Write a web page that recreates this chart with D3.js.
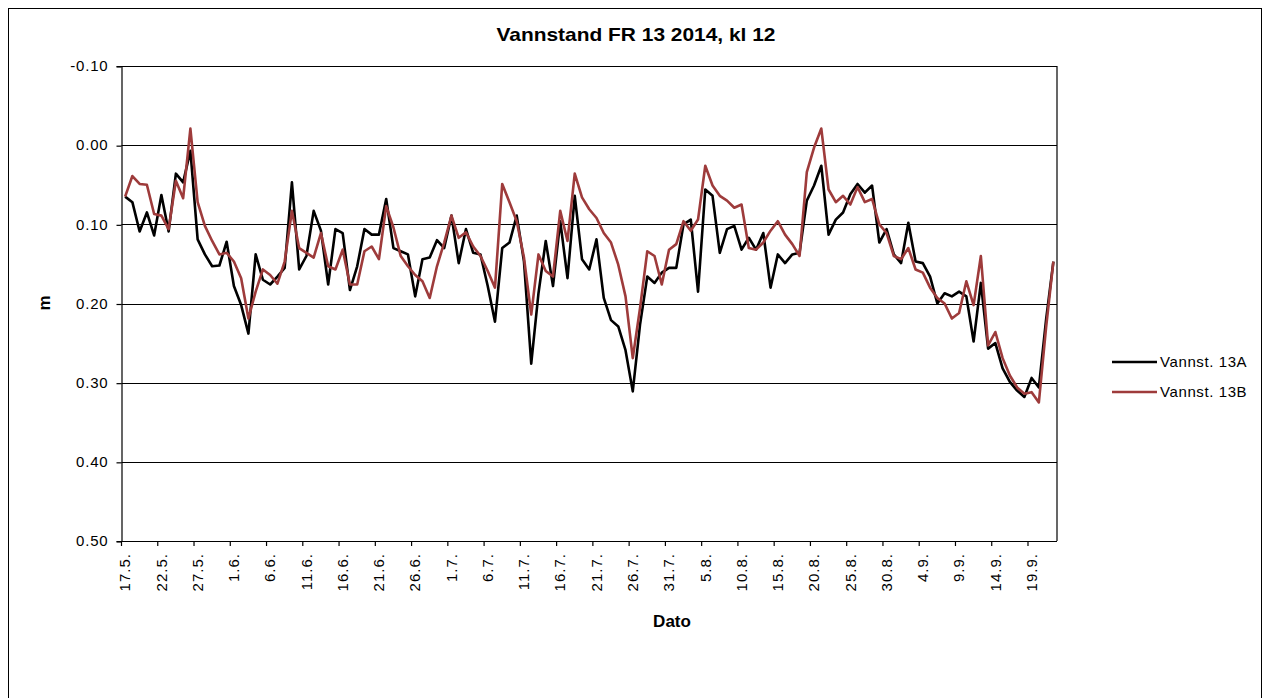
<!DOCTYPE html>
<html>
<head>
<meta charset="utf-8">
<script src="https://cdn.jsdelivr.net/npm/d3@7"></script>
<style>
  body { margin: 0; background: #fff; }
  text { font-family: "Liberation Sans", Arial, sans-serif; }
</style>
</head>
<body>
<div id="chart"></div>
<script>
// daily readings kl 12, 17.5. - 22.9. 2014
var startDay = new Date(2014, 4, 17);

var vannst13A = [
  0.065, 0.072, 0.109, 0.085, 0.114, 0.063, 0.109, 0.036, 0.047, 0.007,
  0.119, 0.138, 0.153, 0.152, 0.122, 0.178, 0.202, 0.238, 0.138, 0.170,
  0.176, 0.166, 0.155, 0.047, 0.157, 0.140, 0.083, 0.108, 0.176, 0.106,
  0.111, 0.183, 0.153, 0.106, 0.113, 0.113, 0.068, 0.130, 0.134, 0.138,
  0.191, 0.144, 0.142, 0.120, 0.130, 0.089, 0.149, 0.106, 0.136, 0.138,
  0.178, 0.223, 0.130, 0.123, 0.089, 0.147, 0.276, 0.187, 0.121, 0.178,
  0.096, 0.168, 0.064, 0.144, 0.157, 0.119, 0.193, 0.221, 0.229, 0.259,
  0.311, 0.227, 0.166, 0.174, 0.161, 0.155, 0.155, 0.100, 0.094, 0.185,
  0.056, 0.064, 0.136, 0.106, 0.102, 0.132, 0.117, 0.132, 0.111, 0.180,
  0.138, 0.149, 0.138, 0.136, 0.070, 0.051, 0.026, 0.113, 0.094, 0.085,
  0.062, 0.049, 0.060, 0.051, 0.123, 0.106, 0.138, 0.149, 0.098, 0.147,
  0.149, 0.166, 0.200, 0.187, 0.191, 0.185, 0.191, 0.248, 0.174, 0.257,
  0.250, 0.282, 0.299, 0.310, 0.318, 0.294, 0.306, 0.220, 0.147
];

var vannst13B = [
  0.065, 0.039, 0.049, 0.050, 0.087, 0.089, 0.106, 0.045, 0.067, -0.021,
  0.072, 0.102, 0.121, 0.138, 0.136, 0.147, 0.168, 0.219, 0.185, 0.157,
  0.164, 0.175, 0.147, 0.083, 0.130, 0.136, 0.142, 0.111, 0.153, 0.157,
  0.132, 0.176, 0.176, 0.134, 0.128, 0.144, 0.077, 0.104, 0.140, 0.153,
  0.164, 0.172, 0.193, 0.153, 0.123, 0.089, 0.117, 0.110, 0.128, 0.140,
  0.159, 0.180, 0.049, 0.072, 0.096, 0.142, 0.214, 0.138, 0.159, 0.166,
  0.083, 0.121, 0.036, 0.066, 0.081, 0.092, 0.111, 0.123, 0.151, 0.191,
  0.269, 0.206, 0.134, 0.140, 0.176, 0.132, 0.125, 0.096, 0.108, 0.094,
  0.026, 0.051, 0.064, 0.070, 0.079, 0.075, 0.130, 0.132, 0.123, 0.108,
  0.096, 0.113, 0.125, 0.140, 0.034, 0.003, -0.021, 0.056, 0.072, 0.064,
  0.075, 0.053, 0.072, 0.068, 0.100, 0.111, 0.140, 0.144, 0.130, 0.157,
  0.161, 0.180, 0.193, 0.200, 0.219, 0.212, 0.172, 0.202, 0.140, 0.253,
  0.236, 0.269, 0.291, 0.306, 0.314, 0.312, 0.325, 0.230, 0.147
];

var xTickLabels = ["17.5.", "22.5.", "27.5.", "1.6.", "6.6.", "11.6.", "16.6.", "21.6.",
  "26.6.", "1.7.", "6.7.", "11.7.", "16.7.", "21.7.", "26.7.", "31.7.", "5.8.", "10.8.",
  "15.8.", "20.8.", "25.8.", "30.8.", "4.9.", "9.9.", "14.9.", "19.9."];
var yTicks = [-0.10, 0.00, 0.10, 0.20, 0.30, 0.40, 0.50];

var seriesNames = ["Vannst. 13A", "Vannst. 13B"];
var seriesColors = ["#000000", "#9e3b3b"];

var W = 1265, H = 698;
var plot = { left: 121.5, right: 1057, top: 66, bottom: 541 };

var days = d3.timeDay.range(startDay, d3.timeDay.offset(startDay, vannst13A.length));
var noon = function(d) { return d3.timeHour.offset(d, 12); };

var x = d3.scaleTime()
  .domain([startDay, d3.timeDay.offset(startDay, vannst13A.length)])
  .range([plot.left, plot.right]);

var y = d3.scaleLinear()
  .domain([-0.10, 0.50])
  .range([plot.top, plot.bottom]);

var fmt = d3.format(".2f");

var svg = d3.select("#chart").append("svg")
  .attr("width", W)
  .attr("height", H);

svg.append("rect")
  .attr("x", 8.5).attr("y", 8.5)
  .attr("width", 1253).attr("height", 700)
  .attr("fill", "#fff")
  .attr("stroke", "#000");

svg.append("text")
  .attr("x", 636).attr("y", 41)
  .attr("text-anchor", "middle")
  .attr("textLength", 279)
  .attr("lengthAdjust", "spacingAndGlyphs")
  .style("font-size", "19px")
  .style("font-weight", "bold")
  .text("Vannstand FR 13 2014, kl 12");

// gridlines
svg.append("g").selectAll("line")
  .data(yTicks)
  .enter().append("line")
  .attr("x1", plot.left).attr("x2", plot.right)
  .attr("y1", function(d) { return Math.round(y(d)) + 0.5; })
  .attr("y2", function(d) { return Math.round(y(d)) + 0.5; })
  .attr("stroke", "#000").attr("stroke-width", 1.2);

// y axis
var yAxis = d3.axisLeft(y)
  .tickValues(yTicks)
  .tickSize(5)
  .tickPadding(8)
  .tickFormat(function(d) { return fmt(d).replace("\u2212", "-"); });

svg.append("g")
  .attr("transform", "translate(" + plot.left + ",0)")
  .call(yAxis)
  .call(function(g) {
    g.select(".domain").attr("stroke-width", 1.2);
    g.selectAll(".tick line").attr("stroke-width", 1.2)
      .attr("transform", "translate(0,0.5)");
    g.selectAll(".tick text")
      .style("font-size", "15px")
      .style("letter-spacing", "0.8px")
      .attr("font-family", null).attr("fill", "#000");
  });

// right border of plot area
svg.append("line")
  .attr("x1", plot.right).attr("x2", plot.right)
  .attr("y1", plot.top).attr("y2", plot.bottom)
  .attr("stroke", "#000").attr("stroke-width", 1.2);

// x axis: ticks at day boundaries, labels at noon
var tickDays = xTickLabels.map(function(s, i) { return d3.timeDay.offset(startDay, i * 5); });

var xg = svg.append("g");
xg.append("line")
  .attr("x1", plot.left).attr("x2", plot.right)
  .attr("y1", plot.bottom + 0.5).attr("y2", plot.bottom + 0.5)
  .attr("stroke", "#000").attr("stroke-width", 1.2);

xg.selectAll("line.tick")
  .data(tickDays)
  .enter().append("line")
  .attr("class", "tick")
  .attr("x1", function(d) { return x(d); })
  .attr("x2", function(d) { return x(d); })
  .attr("y1", plot.bottom).attr("y2", plot.bottom + 5)
  .attr("stroke", "#000").attr("stroke-width", 1.2);

xg.selectAll("text")
  .data(tickDays)
  .enter().append("text")
  .attr("transform", function(d) { return "translate(" + x(noon(d)) + "," + (plot.bottom + 12) + ") rotate(-90)"; })
  .attr("dy", "0.35em")
  .attr("text-anchor", "end")
  .style("font-size", "15px")
  .style("letter-spacing", "1px")
  .text(function(d, i) { return xTickLabels[i]; });

// axis titles
svg.append("text")
  .attr("transform", "translate(50,303) rotate(-90)")
  .attr("text-anchor", "middle")
  .style("font-size", "17px")
  .style("font-weight", "bold")
  .text("m");

svg.append("text")
  .attr("x", 672).attr("y", 627)
  .attr("text-anchor", "middle")
  .style("font-size", "17px")
  .style("font-weight", "bold")
  .text("Dato");

// series
var line = d3.line()
  .x(function(d, i) { return x(noon(days[i])); })
  .y(function(d) { return y(d); });

[vannst13A, vannst13B].forEach(function(vals, k) {
  svg.append("path")
    .datum(vals)
    .attr("d", line)
    .attr("fill", "none")
    .attr("stroke", seriesColors[k])
    .attr("stroke-width", 2.6)
    .attr("stroke-linejoin", "round");
});

// legend
var legend = svg.append("g").selectAll("g")
  .data(seriesNames)
  .enter().append("g")
  .attr("transform", function(d, i) { return "translate(1112," + (362 + i * 30) + ")"; });

legend.append("line")
  .attr("x1", 0).attr("x2", 45)
  .attr("stroke", function(d, i) { return seriesColors[i]; })
  .attr("stroke-width", 2.6);

legend.append("text")
  .attr("x", 48)
  .attr("dy", "0.35em")
  .style("font-size", "15px")
  .style("letter-spacing", "0.6px")
  .text(function(d) { return d; });
</script>
</body>
</html>
